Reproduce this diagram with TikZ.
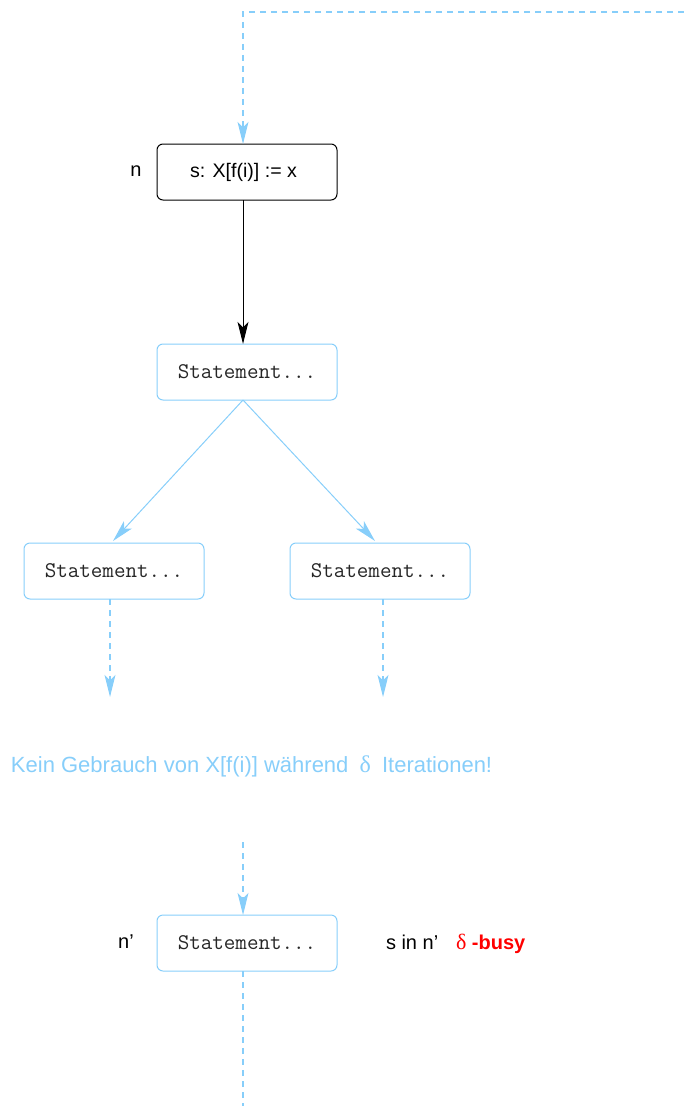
\documentclass[tikz,border=0pt]{standalone}
\usepackage{fontspec}
\setmainfont{Liberation Sans}
\newfontfamily\greekfont{Liberation Serif}
\usetikzlibrary{arrows.meta,calc}
\definecolor{flowblue}{RGB}{135,206,250}
\definecolor{busyred}{RGB}{255,0,0}
\begin{document}
\begin{tikzpicture}[x=0.75pt,y=-0.75pt,
  every node/.style={inner sep=0pt,outer sep=0pt},
  stmtbox/.style={draw=flowblue,line width=0.75pt,rounded corners=4.5pt,
    minimum width=135pt,minimum height=42pt,font=\ttfamily\fontsize{16.8pt}{18pt}\selectfont,text=black!85},
  assignbox/.style={draw=black,line width=0.75pt,rounded corners=4.5pt,
    minimum width=135pt,minimum height=42pt,font=\fontsize{14.7pt}{16pt}\selectfont},
  plain/.style={font=\fontsize{15pt}{17pt}\selectfont},
  tip/.style={-{Stealth[length=16.5pt,width=8.2pt,inset=4pt]}},
  flow/.style={tip,draw=flowblue,line width=0.75pt},
  flowdash/.style={flow,line width=0.85pt,dash pattern=on 4.5pt off 3.75pt},
  plaindash/.style={draw=flowblue,line width=0.85pt,dash pattern=on 4.5pt off 3.75pt}]
\useasboundingbox (0,0) rectangle (684,1106);

% nodes
\node[assignbox] (s1) at (247,172) {\hspace*{-5.25pt}s: X[f(i)] := x};
\node[plain] (ln) at (136,171) {n};
\node[stmtbox] (st) at (247,372) {Statement...};
\node[stmtbox] (sl) at (114,571) {Statement...};
\node[stmtbox] (sr) at (380,571) {Statement...};
\node[plain,font=\fontsize{16.5pt}{18pt}\selectfont,text=flowblue,anchor=base west] (note) at (11,772)
  {Kein Gebrauch von X[f(i)] während\hspace{3.75pt} {\greekfont\fontsize{18pt}{18pt}\selectfont δ}\hspace{3.75pt} Iterationen!};
\node[stmtbox] (sb) at (247,943) {Statement...};
\node[plain] (lnp) at (126,942) {n’};
\node[plain,anchor=base west] (sin) at (386,949) {s in n’};
\node[plain,anchor=base west,text=busyred] (busy) at (456,949)
  {{\greekfont\fontsize{16.5pt}{17pt}\selectfont δ} \textbf{-busy}};

% coordinates for the connector ends
\coordinate (tr) at (684,12);
\coordinate (tl) at (243,12);
\coordinate (dl) at (110,697);
\coordinate (dr) at (383,697);
\coordinate (top2) at (243,842);
\coordinate (bot) at (243,1106);

% connectors
\draw[flowdash] (tr) -- (tl) -- (s1.north -| tl);
\draw[tip,line width=0.75pt] (s1.south -| tl) -- (st.north -| tl);
\draw[flow] (st.south -| tl) -- ($(sl.north)+(-1,-2)$);
\draw[flow] (st.south -| tl) -- ($(sr.north)+(-5,-2)$);
\draw[flowdash] (sl.south -| dl) -- (dl);
\draw[flowdash] (sr.south -| dr) -- (dr);
\draw[flowdash] (top2) -- (sb.north -| top2);
\draw[plaindash] (sb.south -| top2) -- (bot);
\end{tikzpicture}
\end{document}
